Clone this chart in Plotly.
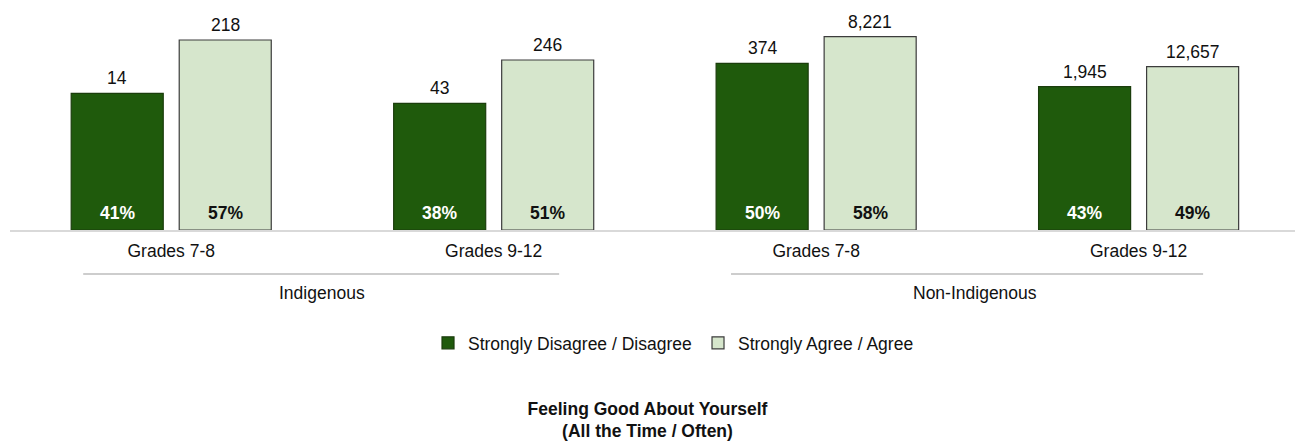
import plotly.graph_objects as go

# Survey results: share answering "Feeling good about yourself" by grade band
grade_labels = ["Grades 7-8", "Grades 9-12", "Grades 7-8", "Grades 9-12"]
group_names = ["Indigenous", "Non-Indigenous"]
series_names = ["Strongly Disagree / Disagree", "Strongly Agree / Agree"]

disagree_pct = [41, 38, 50, 43]
agree_pct = [57, 51, 58, 49]
disagree_n = [14, 43, 374, 1945]
agree_n = [218, 246, 8221, 12657]

DARK = "#1f5a0c"
LIGHT = "#d6e6cc"
EDGE = "#3c3c3c"
FONT = "Liberation Sans, Arial, sans-serif"
FS = 17.5

W, H = 1295, 444
BARGAP = 0.33
BARGROUPGAP = 0.148
slot = (1 - BARGAP) / 2          # width of one bar slot inside a group
offset = slot / 2                # distance from category centre to bar centre

xs = list(range(len(grade_labels)))

fig = go.Figure()
fig.add_trace(go.Bar(
    name=series_names[0], x=xs, y=disagree_pct,
    marker=dict(color=DARK, line=dict(color="#1b3d0c", width=1.2)),
    hoverinfo="skip",
))
fig.add_trace(go.Bar(
    name=series_names[1], x=xs, y=agree_pct,
    marker=dict(color=LIGHT, line=dict(color=EDGE, width=1.2)),
    hoverinfo="skip",
))

annotations = []
for i in xs:
    for sign, pct, n, col in ((-1, disagree_pct[i], disagree_n[i], "white"),
                              (1, agree_pct[i], agree_n[i], "#111111")):
        bx = i + sign * offset
        # respondent count above the bar
        annotations.append(dict(
            x=bx, y=pct, xref="x", yref="y", text=f"{n:,}", showarrow=False,
            yanchor="bottom", yshift=3, font=dict(size=FS, color="#111111", family=FONT),
        ))
        # percentage inside the bar, near its base
        annotations.append(dict(
            x=bx, y=0, xref="x", yref="y", text=f"<b>{pct}%</b>", showarrow=False,
            yanchor="middle", yshift=17, font=dict(size=FS, color=col, family=FONT),
        ))

# group captions under the category labels
group_spans = [(-0.273, 1.203, 0.468), (1.736, 3.2, 2.493)]
shapes = []
for (x0, x1, xc), gname in zip(group_spans, group_names):
    shapes.append(dict(type="line", xref="x", yref="paper", x0=x0, x1=x1,
                       y0=-0.191, y1=-0.191, line=dict(color="#bdbdbd", width=1.5)))
    annotations.append(dict(x=xc, y=-0.272, xref="x", yref="paper", text=gname,
                            showarrow=False, yanchor="middle",
                            font=dict(size=FS, color="#111111", family=FONT)))

fig.update_layout(
    width=W, height=H,
    margin=dict(l=10, r=0, t=0, b=214),
    paper_bgcolor="white", plot_bgcolor="white",
    barmode="group", bargap=BARGAP, bargroupgap=BARGROUPGAP,
    font=dict(family=FONT, size=FS, color="#111111"),
    xaxis=dict(
        range=[-0.5, 3.485], tickvals=xs, ticktext=grade_labels,
        showline=True, linecolor="#d9d9d9", linewidth=1.5,
        showgrid=False, zeroline=False, ticks="", fixedrange=True,
        tickfont=dict(size=FS, color="#111111"), ticklabelstandoff=4,
    ),
    yaxis=dict(range=[0, 69], visible=False, fixedrange=True),
    legend=dict(
        orientation="h", x=0.3253, xanchor="left", y=-0.491, yanchor="middle",
        font=dict(size=FS, color="#111111"), entrywidth=225, itemclick=False,
    ),
    title=dict(
        text="<b>Feeling Good About Yourself<br>(All the Time / Often)</b>",
        x=0.5, xanchor="center", y=0.066, yanchor="middle",
        font=dict(size=FS, color="#111111", family=FONT),
    ),
    annotations=annotations,
    shapes=shapes,
)

fig.write_html("out.html")
